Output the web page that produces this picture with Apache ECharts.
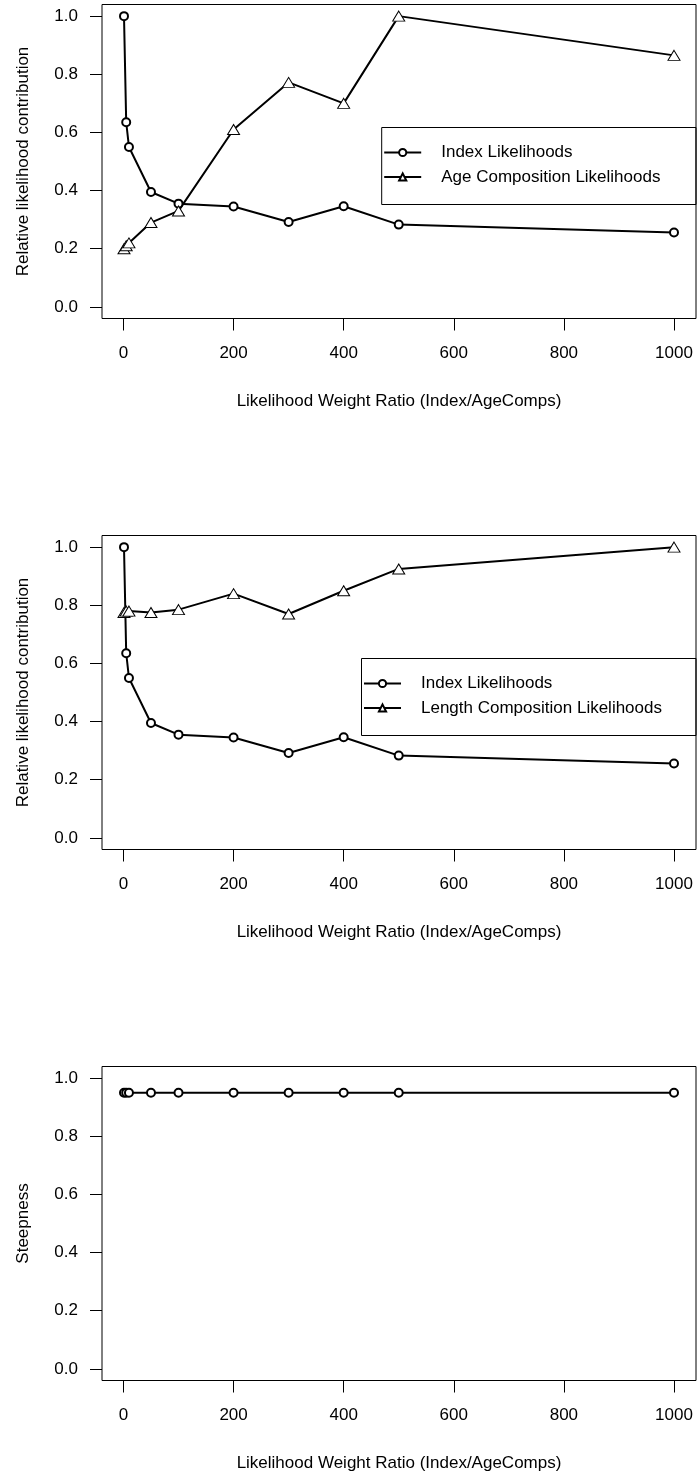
<!DOCTYPE html>
<html>
<head>
<meta charset="utf-8">
<script src="https://cdn.jsdelivr.net/npm/echarts@6/dist/echarts.min.js"></script>
<style>
html,body{margin:0;padding:0;background:#fff;}
#chart{width:697px;height:1475px;}
</style>
</head>
<body>
<div id="chart"></div>
<script>
// ---- data ----
const xVals = [1, 5, 10, 50, 100, 200, 300, 400, 500, 1000];
const indexLik = [1.0, 0.635, 0.55, 0.395, 0.355, 0.345, 0.292, 0.346, 0.283, 0.256];
const ageCompLik = [0.20, 0.21, 0.22, 0.29, 0.33, 0.61, 0.772, 0.70, 1.0, 0.865];
const lengthCompLik = [0.775, 0.78, 0.78, 0.775, 0.785, 0.84, 0.77, 0.85, 0.925, 1.0];
const steepness = [0.95, 0.95, 0.95, 0.95, 0.95, 0.95, 0.95, 0.95, 0.95, 0.95];
const xTicks = [0, 200, 400, 600, 800, 1000];
const yTicks = [0, 0.2, 0.4, 0.6, 0.8, 1.0];
const xTitle = 'Likelihood Weight Ratio (Index/AgeComps)';
const yTitles = ['Relative likelihood contribution', 'Relative likelihood contribution', 'Steepness'];
const legend1 = ['Index Likelihoods', 'Age Composition Likelihoods'];
const legend2 = ['Index Likelihoods', 'Length Composition Likelihoods'];

// ---- layout ----
const FONT = '"Liberation Sans", Arial, Helvetica, sans-serif';
const FS = 17;
const tops = [4.5, 535.5, 1066.5];
const H = 314;
const xmin = 1 - 0.04 * 999, xmax = 1000 + 0.04 * 999;
const ymin = -0.04, ymax = 1.04;

const pairs = arr => xVals.map((x, i) => [x, arr[i]]);

const grids = tops.map(t => ({
  left: 102, right: 1, top: t, height: H,
  show: true, borderColor: '#000', borderWidth: 1, backgroundColor: 'transparent'
}));

const xAxes = tops.map((t, i) => ({
  type: 'value', gridIndex: i, min: xmin, max: xmax, position: 'bottom',
  axisLine: { show: false, onZero: false },
  axisTick: { show: true, customValues: xTicks, length: 12, inside: false, lineStyle: { color: '#000', width: 1 } },
  axisLabel: { show: true, customValues: xTicks, margin: 26, color: '#000', fontSize: FS, fontFamily: FONT,
               formatter: v => String(v) },
  splitLine: { show: false },
  name: xTitle, nameLocation: 'middle', nameGap: 74,
  nameTextStyle: { color: '#000', fontSize: FS, fontFamily: FONT }
}));

const yAxes = tops.map((t, i) => ({
  type: 'value', gridIndex: i, min: ymin, max: ymax, position: 'left',
  axisLine: { show: false, onZero: false },
  axisTick: { show: true, customValues: yTicks, length: 12, inside: false, lineStyle: { color: '#000', width: 1 } },
  axisLabel: { show: true, customValues: yTicks, margin: 24, color: '#000', fontSize: FS, fontFamily: FONT,
               formatter: v => v.toFixed(1) },
  splitLine: { show: false },
  name: yTitles[i], nameLocation: 'middle', nameGap: 70, nameRotate: 90,
  nameTextStyle: { color: '#000', fontSize: FS, fontFamily: FONT }
}));

function circleSeries(name, arr, gi) {
  return {
    type: 'line', name: name, xAxisIndex: gi, yAxisIndex: gi, data: pairs(arr),
    symbol: 'circle', symbolSize: 8, showSymbol: true, showAllSymbol: true,
    lineStyle: { color: '#000', width: 2 },
    itemStyle: { color: '#fff', borderColor: '#000', borderWidth: 2 },
    emphasis: { disabled: true }, animation: false, z: 3
  };
}
function triSeries(name, arr, gi) {
  return {
    type: 'line', name: name, xAxisIndex: gi, yAxisIndex: gi, data: pairs(arr),
    symbol: 'triangle', symbolSize: [12, 10], showSymbol: true, showAllSymbol: true,
    lineStyle: { color: '#000', width: 2 },
    itemStyle: { color: '#fff', borderColor: '#000', borderWidth: 1 },
    emphasis: { disabled: true }, animation: false, z: 3
  };
}

const series = [
  circleSeries(legend1[0], indexLik, 0),
  triSeries(legend1[1], ageCompLik, 0),
  circleSeries(legend2[0], indexLik, 1),
  triSeries(legend2[1], lengthCompLik, 1),
  circleSeries('Steepness', steepness, 2)
];

const legBoxes = [
  { left: 381.7, top: 127.5, bottom: 204.5 },
  { left: 361.5, top: 658.5, bottom: 735.5 }
];

function mkLegend(names, box) {
  return {
    data: names, orient: 'vertical', left: box.left + 1.5, top: box.top + 15,
    padding: 0, itemGap: 4.5, itemWidth: 37, itemHeight: 9,
    selectedMode: false,
    textStyle: { color: '#000', fontSize: FS, fontFamily: FONT, lineHeight: 20, padding: [0, 0, 0, 15] }
  };
}

const option = {
  backgroundColor: '#fff',
  animation: false,
  textStyle: { fontFamily: FONT },
  grid: grids, xAxis: xAxes, yAxis: yAxes, series: series,
  legend: [mkLegend(legend1, legBoxes[0]), mkLegend(legend2, legBoxes[1])],
  graphic: legBoxes.map(b => ({
    type: 'rect', silent: true, z: 10,
    shape: { x: b.left, y: b.top, width: 696 - b.left, height: b.bottom - b.top },
    style: { fill: 'none', stroke: '#000', lineWidth: 1 }
  }))
};

const chart = echarts.init(document.getElementById('chart'), null, { renderer: 'canvas' });
chart.setOption(option);
</script>
</body>
</html>
